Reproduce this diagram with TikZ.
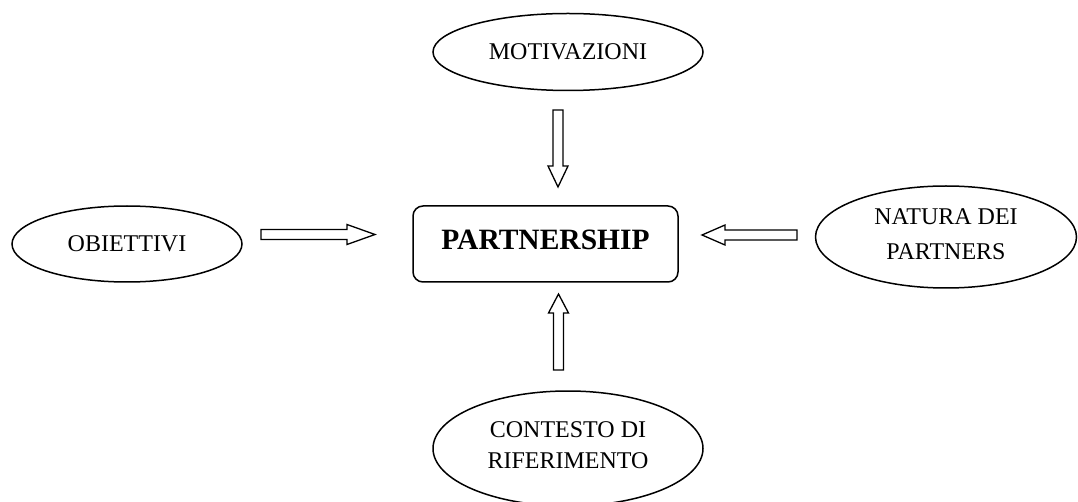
\documentclass[tikz,border=0pt]{standalone}
\usepackage{fontspec}
\setmainfont{Liberation Serif}
\usetikzlibrary{shapes.geometric}
\begin{document}
\begin{tikzpicture}[x=1pt,y=-1pt,
  factor/.style={ellipse,draw,line width=1.5pt,inner sep=0pt,align=center,
    font=\fontsize{24}{35}\selectfont},
  core/.style={draw,line width=1.5pt,rounded corners=10pt,inner sep=0pt,
    minimum width=265pt,minimum height=76pt,text depth=8pt,
    font=\fontsize{29.5}{34}\selectfont\bfseries},
  % hollow block arrow: {overall length}{head length}, tail at the origin
  pics/blockarr/.style 2 args={code={
    \draw[line width=1.3pt,line join=miter]
      (0,-5) -- ({#1-#2},-5) -- ({#1-#2},-10) -- (#1,0)
      -- ({#1-#2},10) -- ({#1-#2},5) -- (0,5) -- cycle;}}
]
\useasboundingbox (0,0) rectangle (1078,502);

% central box
\node[core] (part) at (545.5,244) {PARTNERSHIP};

% surrounding factors
\node[factor,minimum width=230pt,minimum height=76pt] (obj) at (127,244) {OBIETTIVI};
\node[factor,minimum width=270pt,minimum height=77pt] (mot) at (568,52) {MOTIVAZIONI};
\node[factor,minimum width=261pt,minimum height=102pt,text depth=6pt] (nat) at (946,237) {NATURA DEI\\PARTNERS};
\node[factor,minimum width=270pt,minimum height=115pt,text depth=6pt,
  font=\fontsize{24}{31}\selectfont] (ctx) at (568,448.5) {CONTESTO DI\\RIFERIMENTO};

% hollow block arrows pointing at the box
\pic[rotate=-90] (aMot) at (558,110) {blockarr={77}{21}};
\pic (aObj) at (261,234.5) {blockarr={114}{28}};
\pic[rotate=180] (aNat) at (797,235) {blockarr={95}{23}};
\pic[rotate=90] (aCtx) at (558.5,370) {blockarr={76}{19}};
\end{tikzpicture}
\end{document}
